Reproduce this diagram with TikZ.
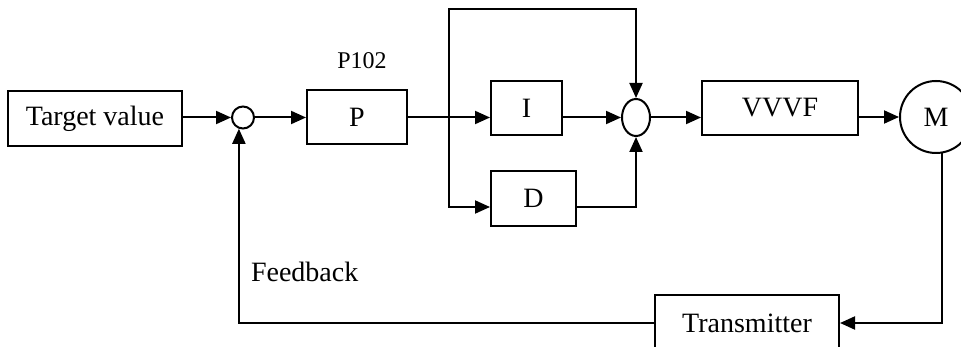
\documentclass[tikz,border=0pt]{standalone}
\usepackage{fontspec}
\setmainfont{Liberation Serif}
\usetikzlibrary{arrows.meta,shapes.geometric}
\begin{document}
\begin{tikzpicture}[x=1pt,y=-1pt,line width=2pt,
  box/.style={draw,rectangle,inner sep=0pt,font=\fontsize{28}{32}\selectfont},
  sumc/.style={draw,circle,inner sep=0pt},
  arr/.style={-{Triangle[length=15pt,width=13pt]}},
  lbl/.style={inner sep=0pt,font=\fontsize{28}{32}\selectfont}]
\useasboundingbox (0,0) rectangle (961,347);
\clip (0,0) rectangle (961,347);
\node[box,minimum width=174pt,minimum height=55pt] (tv) at (95,118.5) {Target value};
\node[sumc,minimum size=22pt] (s1) at (243,117.5) {};
\node[box,minimum width=100pt,minimum height=54pt] (P) at (357,117) {P};
\node[lbl,font=\fontsize{24}{28}\selectfont] (p102) at (362,61) {P102};
\node[box,minimum width=71pt,minimum height=54pt] (I) at (526.5,108) {I};
\node[box,minimum width=85pt,minimum height=55pt] (D) at (533.5,198.5) {D};
\node[draw,ellipse,minimum width=28pt,minimum height=37pt,inner sep=0pt] (s2) at (636,117.5) {};
\node[box,minimum width=156pt,minimum height=54pt] (V) at (780,108) {VVVF};
\node[draw,circle,minimum size=72pt,inner sep=0pt,font=\fontsize{28}{32}\selectfont] (M) at (936,117) {M};
\node[box,minimum width=184pt,minimum height=56pt] (T) at (747,323) {Transmitter};
\node[lbl,anchor=west] (fb) at (250,272) {Feedback};
\coordinate (br) at (449,117.5);
\coordinate (tl) at (449,9);
\coordinate (bl) at (449,207);
\draw[arr] (tv.east |- s1) -- (s1.west);
\draw[arr] (s1.east) -- (P.west |- s1);
\draw (P.east |- s1) -- (br);
\draw[arr] (br) -- (I.west |- s2);
\draw[arr] (br) -- (tl) -- (s2.north |- tl) -- (s2.north);
\draw[arr] (br) -- (bl) -- (D.west |- bl);
\draw[arr] (I.east |- s2) -- (s2.west);
\draw[arr] (D.east |- bl) -- (s2.south |- bl) -- (s2.south);
\draw[arr] (s2.east) -- (V.west |- s2);
\draw[arr] (V.east |- M) -- (M.west);
\draw[arr] (M.-80) -- (M.-80 |- T) -- (T.east);
\draw[arr] (T.west) -- (s1.-110 |- T) -- (s1.-110);
\end{tikzpicture}
\end{document}
